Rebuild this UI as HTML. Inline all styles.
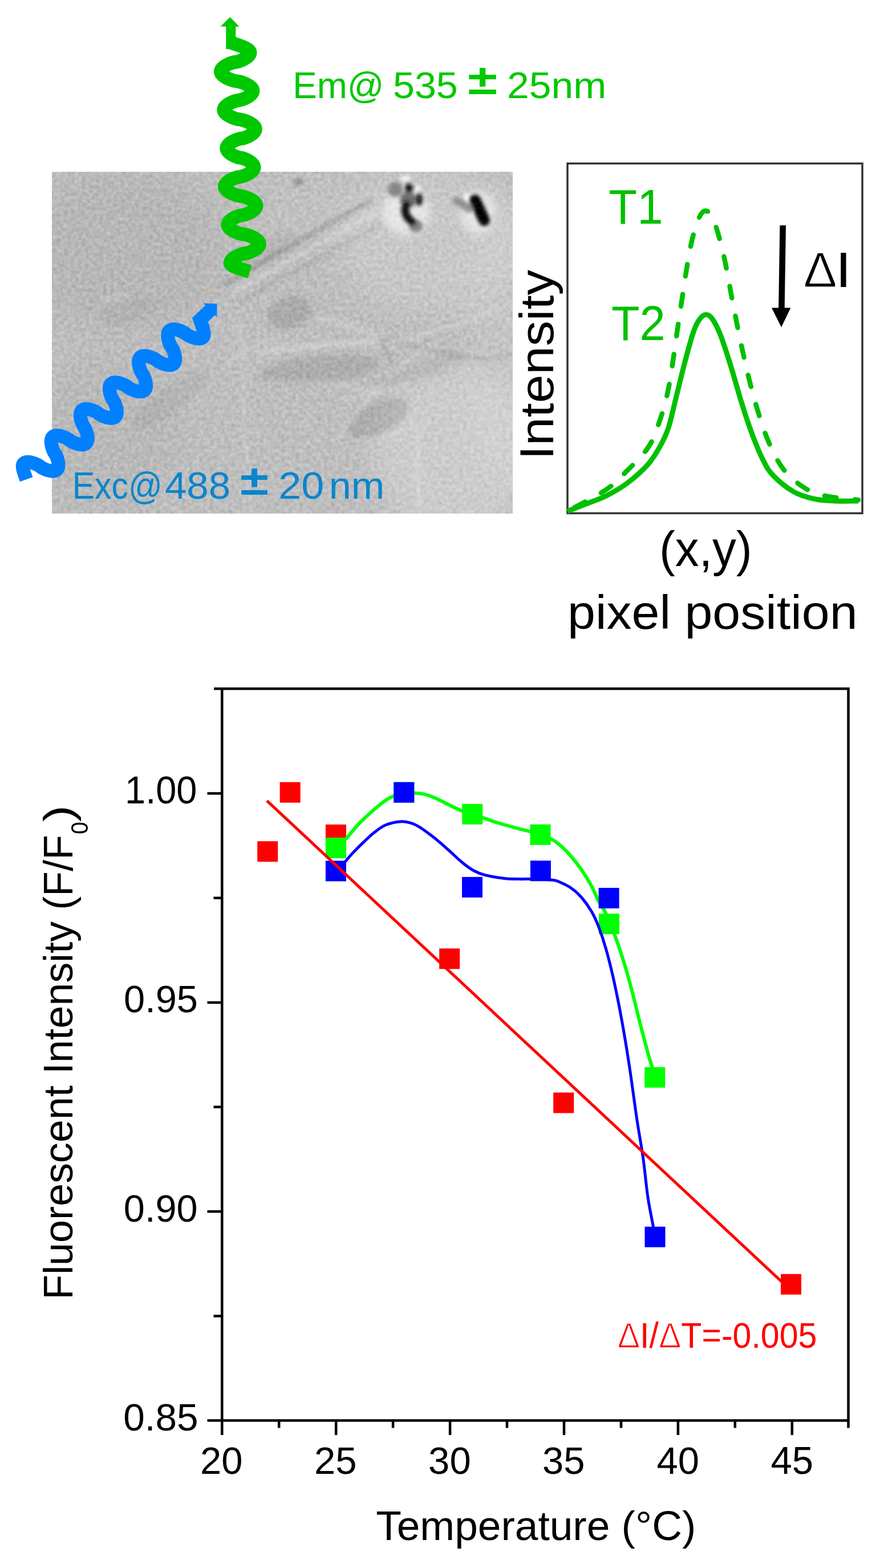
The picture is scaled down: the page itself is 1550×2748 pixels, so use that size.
<!DOCTYPE html><html><head><meta charset="utf-8"><title>Fluorescence thermometry figure</title><style>html,body{margin:0;padding:0;background:#fff;overflow:hidden}svg{display:block}text{font-family:"Liberation Sans",Arial,sans-serif}</style></head><body>
<svg width="1550" height="2748" viewBox="0 0 1550 2748">
<defs><filter id="grain" x="91" y="301" width="808" height="599" filterUnits="userSpaceOnUse" color-interpolation-filters="sRGB"><feTurbulence type="fractalNoise" baseFrequency="0.16" numOctaves="2" seed="5"/><feGaussianBlur stdDeviation="0.8"/><feColorMatrix type="matrix" values="0.24 0 0 0 0.622  0.24 0 0 0 0.622  0.24 0 0 0 0.622  0 0 0 0 1"/></filter><filter id="grain2" x="91" y="301" width="808" height="599" filterUnits="userSpaceOnUse" color-interpolation-filters="sRGB"><feTurbulence type="fractalNoise" baseFrequency="0.3" numOctaves="1" seed="11"/><feColorMatrix type="matrix" values="0 0 0 0 1  0 0 0 0 1  0 0 0 0 1  2.2 0 0 0 -1.15"/></filter><filter id="b3" x="-50%" y="-50%" width="200%" height="200%"><feGaussianBlur stdDeviation="3"/></filter><filter id="b5" x="-50%" y="-50%" width="200%" height="200%"><feGaussianBlur stdDeviation="5"/></filter><filter id="b8" x="-50%" y="-50%" width="200%" height="200%"><feGaussianBlur stdDeviation="8"/></filter><filter id="b25" x="-50%" y="-50%" width="200%" height="200%"><feGaussianBlur stdDeviation="25"/></filter><clipPath id="imgclip"><rect x="91" y="301" width="808" height="599"/></clipPath></defs>
<rect width="1550" height="2748" fill="#fff"/>
<g clip-path="url(#imgclip)">
<rect x="91" y="301" width="808" height="599" filter="url(#grain)"/>
<g filter="url(#b25)">
<ellipse cx="800" cy="790" rx="150" ry="150" fill="#fff" opacity="0.22"/>
<ellipse cx="760" cy="420" rx="170" ry="130" fill="#fff" opacity="0.16"/>
<ellipse cx="880" cy="600" rx="60" ry="260" fill="#fff" opacity="0.10"/>
<ellipse cx="560" cy="360" rx="120" ry="60" fill="#fff" opacity="0.05"/>
<ellipse cx="220" cy="440" rx="170" ry="140" fill="#000" opacity="0.035"/>
<ellipse cx="190" cy="760" rx="120" ry="130" fill="#000" opacity="0.025"/>
</g>
<g filter="url(#b5)" fill="#000">
<ellipse cx="508" cy="548" rx="40" ry="28" opacity="0.10" transform="rotate(-20 508 548)"/>
<ellipse cx="560" cy="648" rx="105" ry="24" opacity="0.09" transform="rotate(-6 560 648)"/>
<ellipse cx="663" cy="733" rx="58" ry="27" opacity="0.10" transform="rotate(-28 663 733)"/>
<ellipse cx="225" cy="545" rx="50" ry="20" opacity="0.03" transform="rotate(-12 225 545)"/>
<ellipse cx="735" cy="650" rx="88" ry="15" opacity="0.05" transform="rotate(-20 735 650)"/>
<ellipse cx="300" cy="700" rx="80" ry="22" opacity="0.045" transform="rotate(-38 300 700)"/>
<ellipse cx="470" cy="440" rx="60" ry="20" opacity="0.04" transform="rotate(-30 470 440)"/>
</g>
<g filter="url(#b3)" fill="none">
<path d="M392 500 C470 452 560 402 652 350" stroke="#000" stroke-opacity="0.14" stroke-width="9"/>
<path d="M420 530 C500 482 580 442 670 392" stroke="#000" stroke-opacity="0.08" stroke-width="7"/>
<path d="M406 515 C488 467 570 421 662 370" stroke="#fff" stroke-opacity="0.22" stroke-width="8"/>
<path d="M452 618 C540 606 620 600 662 598" stroke="#fff" stroke-opacity="0.28" stroke-width="8"/>
<path d="M552 556 C600 565 640 580 666 592" stroke="#fff" stroke-opacity="0.22" stroke-width="7"/>
<path d="M666 592 C675 610 684 628 691 642" stroke="#000" stroke-opacity="0.10" stroke-width="5"/>
<path d="M684 600 C760 585 830 560 899 530" stroke="#fff" stroke-opacity="0.18" stroke-width="8"/>
<path d="M600 700 C640 690 690 680 720 672" stroke="#fff" stroke-opacity="0.20" stroke-width="6"/>
<path d="M615 772 C650 775 700 760 730 740" stroke="#fff" stroke-opacity="0.16" stroke-width="6"/>
<path d="M470 665 C540 676 610 665 660 690" stroke="#fff" stroke-opacity="0.14" stroke-width="8"/>
<path d="M590 772 C640 692 700 640 762 602" stroke="#fff" stroke-opacity="0.14" stroke-width="8"/>
<path d="M680 592 C760 612 830 642 899 622" stroke="#000" stroke-opacity="0.07" stroke-width="8"/>
<path d="M420 560 C430 610 420 700 440 900" stroke="#fff" stroke-opacity="0.10" stroke-width="10"/>
<path d="M180 525 L228 515" stroke="#fff" stroke-opacity="0.25" stroke-width="5"/>
<path d="M395 640 C420 620 450 600 500 585" stroke="#fff" stroke-opacity="0.18" stroke-width="6"/>
<path d="M731 742 L735 900" stroke="#fff" stroke-opacity="0.15" stroke-width="8"/>
<ellipse cx="524" cy="319" rx="9" ry="7" fill="#000" fill-opacity="0.22" stroke="none"/>
</g>
<g filter="url(#b8)">
<ellipse cx="712" cy="372" rx="42" ry="40" fill="#fff" opacity="0.55"/>
<ellipse cx="838" cy="372" rx="30" ry="38" fill="#fff" opacity="0.55"/>
</g>
<g filter="url(#b3)">
<ellipse cx="711" cy="313" rx="10" ry="5" fill="#fff" opacity="0.8"/>
<ellipse cx="732" cy="331" rx="5" ry="5" fill="#fff"/>
<ellipse cx="819" cy="350" rx="5" ry="11" fill="#fff"/>
</g>
<g filter="url(#b3)">
<ellipse cx="693" cy="332" rx="13" ry="13" fill="#858585"/>
<ellipse cx="716" cy="350" rx="15" ry="14" fill="#6e6e6e"/>
<ellipse cx="729" cy="396" rx="12" ry="11" fill="#808080"/>
<ellipse cx="717" cy="330" rx="7" ry="8" fill="#0c0c0c"/>
<ellipse cx="735" cy="350" rx="6" ry="11" fill="#151515"/>
<path d="M713 358 C707 370 712 381 723 389" stroke="#0a0a0a" stroke-width="14" stroke-linecap="round" fill="none"/>
<path d="M800 352 C810 356 818 362 822 366" stroke="#8f8f8f" stroke-width="14" stroke-linecap="round" fill="none"/>
<path d="M833 351 L849 386" stroke="#030303" stroke-width="20" stroke-linecap="round" fill="none"/>
</g>
<rect x="91" y="301" width="808" height="599" filter="url(#grain2)" opacity="0.2"/>
</g>
<path d="M406.00 75.00 L407.55 75.51 L409.09 76.03 L410.63 76.54 L412.15 77.06 L413.66 77.57 L415.16 78.09 L416.63 78.60 L418.08 79.12 L419.50 79.63 L420.89 80.15 L422.25 80.66 L423.57 81.17 L424.85 81.69 L426.09 82.20 L427.28 82.72 L428.43 83.23 L429.52 83.75 L430.56 84.26 L431.55 84.78 L432.47 85.29 L433.34 85.81 L434.15 86.32 L434.89 86.83 L435.56 87.35 L436.17 87.86 L436.71 88.38 L437.18 88.89 L437.58 89.41 L437.91 89.92 L438.17 90.44 L438.35 90.95 L438.46 91.47 L438.50 91.98 L438.48 92.48 L438.42 92.98 L438.32 93.48 L438.18 93.98 L438.00 94.48 L437.79 94.98 L437.53 95.49 L437.23 95.99 L436.90 96.49 L436.52 96.99 L436.11 97.49 L435.65 97.99 L435.16 98.49 L434.62 98.99 L434.05 99.49 L433.44 99.99 L432.79 100.49 L432.09 100.99 L431.36 101.49 L430.58 101.99 L429.76 102.50 L428.90 103.00 L427.99 103.50 L427.03 104.00 L426.02 104.50 L424.96 105.00 L423.84 105.50 L422.64 106.00 L421.37 106.50 L419.99 107.00 L418.48 107.50 L416.76 108.00 L414.61 108.50 L410.89 109.01 L408.74 109.51 L407.02 110.01 L405.51 110.51 L404.13 111.01 L402.86 111.51 L401.66 112.01 L400.54 112.51 L399.48 113.01 L398.47 113.51 L397.51 114.01 L396.60 114.51 L395.74 115.01 L394.92 115.52 L394.14 116.02 L393.41 116.52 L392.71 117.02 L392.06 117.52 L391.45 118.02 L390.88 118.52 L390.34 119.02 L389.85 119.52 L389.39 120.02 L388.98 120.52 L388.60 121.02 L388.27 121.52 L387.97 122.02 L387.71 122.53 L387.50 123.03 L387.32 123.53 L387.18 124.03 L387.08 124.53 L387.02 125.03 L387.00 125.53 L387.02 126.03 L387.09 126.53 L387.20 127.03 L387.35 127.53 L387.54 128.03 L387.78 128.53 L388.06 129.04 L388.39 129.54 L388.76 130.04 L389.17 130.54 L389.62 131.04 L390.12 131.54 L390.66 132.04 L391.24 132.54 L391.87 133.04 L392.54 133.54 L393.26 134.04 L394.02 134.54 L394.82 135.04 L395.67 135.54 L396.57 136.05 L397.51 136.55 L398.51 137.05 L399.56 137.55 L400.66 138.05 L401.83 138.55 L403.06 139.05 L404.36 139.55 L405.76 140.05 L407.27 140.55 L408.92 141.05 L410.80 141.55 L413.16 142.05 L417.24 142.56 L419.60 143.06 L421.48 143.56 L423.13 144.06 L424.64 144.56 L426.04 145.06 L427.34 145.56 L428.57 146.06 L429.74 146.56 L430.84 147.06 L431.89 147.56 L432.89 148.06 L433.83 148.56 L434.73 149.07 L435.58 149.57 L436.38 150.07 L437.14 150.57 L437.86 151.07 L438.53 151.57 L439.16 152.07 L439.74 152.57 L440.28 153.07 L440.78 153.57 L441.23 154.07 L441.64 154.57 L442.01 155.07 L442.34 155.57 L442.62 156.08 L442.86 156.58 L443.05 157.08 L443.20 157.58 L443.31 158.08 L443.38 158.58 L443.40 159.08 L443.38 159.58 L443.32 160.08 L443.22 160.58 L443.09 161.08 L442.91 161.58 L442.69 162.08 L442.44 162.59 L442.15 163.09 L441.81 163.59 L441.44 164.09 L441.03 164.59 L440.58 165.09 L440.09 165.59 L439.56 166.09 L439.00 166.59 L438.39 167.09 L437.74 167.59 L437.05 168.09 L436.33 168.59 L435.56 169.09 L434.75 169.60 L433.89 170.10 L432.99 170.60 L432.04 171.10 L431.05 171.60 L429.99 172.10 L428.88 172.60 L427.70 173.10 L426.44 173.60 L425.07 174.10 L423.58 174.60 L421.87 175.10 L419.74 175.60 L416.06 176.11 L413.93 176.61 L412.22 177.11 L410.73 177.61 L409.36 178.11 L408.10 178.61 L406.92 179.11 L405.81 179.61 L404.75 180.11 L403.76 180.61 L402.81 181.11 L401.91 181.61 L401.05 182.11 L400.24 182.62 L399.47 183.12 L398.75 183.62 L398.06 184.12 L397.41 184.62 L396.80 185.12 L396.24 185.62 L395.71 186.12 L395.22 186.62 L394.77 187.12 L394.36 187.62 L393.99 188.12 L393.65 188.62 L393.36 189.12 L393.11 189.63 L392.89 190.13 L392.71 190.63 L392.58 191.13 L392.48 191.63 L392.42 192.13 L392.40 192.63 L392.42 193.13 L392.49 193.63 L392.59 194.13 L392.74 194.63 L392.93 195.13 L393.17 195.63 L393.44 196.14 L393.76 196.64 L394.12 197.14 L394.53 197.64 L394.97 198.14 L395.46 198.64 L395.99 199.14 L396.57 199.64 L397.18 200.14 L397.84 200.64 L398.55 201.14 L399.29 201.64 L400.08 202.14 L400.92 202.64 L401.80 203.15 L402.73 203.65 L403.71 204.15 L404.74 204.65 L405.82 205.15 L406.96 205.65 L408.17 206.15 L409.46 206.65 L410.83 207.15 L412.31 207.65 L413.93 208.15 L415.78 208.65 L418.10 209.15 L422.10 209.66 L424.42 210.16 L426.27 210.66 L427.89 211.16 L429.37 211.66 L430.74 212.16 L432.03 212.66 L433.24 213.16 L434.38 213.66 L435.46 214.16 L436.49 214.66 L437.47 215.16 L438.40 215.66 L439.28 216.17 L440.12 216.67 L440.91 217.17 L441.65 217.67 L442.36 218.17 L443.02 218.67 L443.63 219.17 L444.21 219.67 L444.74 220.17 L445.23 220.67 L445.67 221.17 L446.08 221.67 L446.44 222.17 L446.76 222.67 L447.03 223.18 L447.27 223.68 L447.46 224.18 L447.61 224.68 L447.71 225.18 L447.78 225.68 L447.80 226.18 L447.78 226.68 L447.72 227.18 L447.63 227.68 L447.49 228.18 L447.32 228.68 L447.10 229.18 L446.85 229.69 L446.56 230.19 L446.23 230.69 L445.86 231.19 L445.46 231.69 L445.01 232.19 L444.53 232.69 L444.01 233.19 L443.45 233.69 L442.85 234.19 L442.21 234.69 L441.53 235.19 L440.81 235.69 L440.05 236.19 L439.25 236.70 L438.40 237.20 L437.51 237.70 L436.58 238.20 L435.59 238.70 L434.55 239.20 L433.45 239.70 L432.28 240.20 L431.04 240.70 L429.69 241.20 L428.21 241.70 L426.53 242.20 L424.42 242.70 L420.78 243.21 L418.67 243.71 L416.99 244.21 L415.51 244.71 L414.16 245.21 L412.92 245.71 L411.75 246.21 L410.65 246.71 L409.61 247.21 L408.62 247.71 L407.69 248.21 L406.80 248.71 L405.95 249.21 L405.15 249.72 L404.39 250.22 L403.67 250.72 L402.99 251.22 L402.35 251.72 L401.75 252.22 L401.19 252.72 L400.67 253.22 L400.19 253.72 L399.74 254.22 L399.34 254.72 L398.97 255.22 L398.64 255.72 L398.35 256.22 L398.10 256.73 L397.88 257.23 L397.71 257.73 L397.57 258.23 L397.48 258.73 L397.42 259.23 L397.40 259.73 L397.42 260.23 L397.47 260.73 L397.57 261.23 L397.70 261.73 L397.86 262.23 L398.07 262.73 L398.31 263.24 L398.58 263.74 L398.90 264.24 L399.25 264.74 L399.64 265.24 L400.06 265.74 L400.52 266.24 L401.02 266.74 L401.55 267.24 L402.13 267.74 L402.74 268.24 L403.38 268.74 L404.07 269.24 L404.80 269.74 L405.56 270.25 L406.37 270.75 L407.22 271.25 L408.11 271.75 L409.05 272.25 L410.04 272.75 L411.09 273.25 L412.21 273.75 L413.40 274.25 L414.68 274.75 L416.10 275.25 L417.70 275.75 L419.71 276.25 L423.19 276.76 L425.20 277.26 L426.80 277.76 L428.22 278.26 L429.50 278.76 L430.69 279.26 L431.81 279.76 L432.86 280.26 L433.85 280.76 L434.79 281.26 L435.68 281.76 L436.53 282.26 L437.34 282.76 L438.10 283.27 L438.83 283.77 L439.52 284.27 L440.16 284.77 L440.77 285.27 L441.35 285.77 L441.88 286.27 L442.38 286.77 L442.84 287.27 L443.26 287.77 L443.65 288.27 L444.00 288.77 L444.32 289.27 L444.59 289.77 L444.83 290.28 L445.04 290.78 L445.20 291.28 L445.33 291.78 L445.43 292.28 L445.48 292.78 L445.50 293.28 L445.48 293.78 L445.42 294.28 L445.32 294.78 L445.18 295.28 L445.00 295.78 L444.79 296.28 L444.53 296.79 L444.23 297.29 L443.90 297.79 L443.52 298.29 L443.11 298.79 L442.65 299.29 L442.16 299.79 L441.62 300.29 L441.05 300.79 L440.44 301.29 L439.79 301.79 L439.09 302.29 L438.36 302.79 L437.58 303.29 L436.76 303.80 L435.90 304.30 L434.99 304.80 L434.03 305.30 L433.02 305.80 L431.96 306.30 L430.84 306.80 L429.64 307.30 L428.37 307.80 L426.99 308.30 L425.48 308.80 L423.76 309.30 L421.61 309.80 L417.89 310.31 L415.74 310.81 L414.02 311.31 L412.51 311.81 L411.13 312.31 L409.86 312.81 L408.66 313.31 L407.54 313.81 L406.48 314.31 L405.47 314.81 L404.51 315.31 L403.60 315.81 L402.74 316.31 L401.92 316.82 L401.14 317.32 L400.41 317.82 L399.71 318.32 L399.06 318.82 L398.45 319.32 L397.88 319.82 L397.34 320.32 L396.85 320.82 L396.39 321.32 L395.98 321.82 L395.60 322.32 L395.27 322.82 L394.97 323.32 L394.71 323.83 L394.50 324.33 L394.32 324.83 L394.18 325.33 L394.08 325.83 L394.02 326.33 L394.00 326.83 L394.02 327.33 L394.09 327.83 L394.19 328.33 L394.34 328.83 L394.53 329.33 L394.77 329.83 L395.05 330.34 L395.37 330.84 L395.73 331.34 L396.14 331.84 L396.58 332.34 L397.07 332.84 L397.61 333.34 L398.18 333.84 L398.80 334.34 L399.46 334.84 L400.17 335.34 L400.92 335.84 L401.71 336.34 L402.55 336.84 L403.43 337.35 L404.37 337.85 L405.35 338.35 L406.38 338.85 L407.47 339.35 L408.62 339.85 L409.83 340.35 L411.12 340.85 L412.49 341.35 L413.98 341.85 L415.61 342.35 L417.47 342.85 L419.79 343.35 L423.81 343.86 L426.13 344.36 L427.99 344.86 L429.62 345.36 L431.11 345.86 L432.48 346.36 L433.77 346.86 L434.98 347.36 L436.13 347.86 L437.22 348.36 L438.25 348.86 L439.23 349.36 L440.17 349.86 L441.05 350.37 L441.89 350.87 L442.68 351.37 L443.43 351.87 L444.14 352.37 L444.80 352.87 L445.42 353.37 L445.99 353.87 L446.53 354.37 L447.02 354.87 L447.46 355.37 L447.87 355.87 L448.23 356.37 L448.55 356.87 L448.83 357.38 L449.07 357.88 L449.26 358.38 L449.41 358.88 L449.51 359.38 L449.58 359.88 L449.60 360.38 L449.58 360.88 L449.52 361.38 L449.43 361.88 L449.29 362.38 L449.12 362.88 L448.91 363.38 L448.65 363.89 L448.37 364.39 L448.04 364.89 L447.67 365.39 L447.27 365.89 L446.82 366.39 L446.34 366.89 L445.82 367.39 L445.26 367.89 L444.67 368.39 L444.03 368.89 L443.35 369.39 L442.64 369.89 L441.88 370.39 L441.08 370.90 L440.24 371.40 L439.36 371.90 L438.42 372.40 L437.44 372.90 L436.40 373.40 L435.31 373.90 L434.15 374.40 L432.90 374.90 L431.56 375.40 L430.09 375.90 L428.41 376.40 L426.31 376.90 L422.69 377.41 L420.59 377.91 L418.91 378.41 L417.44 378.91 L416.10 379.41 L414.85 379.91 L413.69 380.41 L412.60 380.91 L411.56 381.41 L410.58 381.91 L409.64 382.41 L408.76 382.91 L407.92 383.41 L407.12 383.92 L406.36 384.42 L405.65 384.92 L404.97 385.42 L404.33 385.92 L403.74 386.42 L403.18 386.92 L402.66 387.42 L402.18 387.92 L401.73 388.42 L401.33 388.92 L400.96 389.42 L400.63 389.92 L400.35 390.42 L400.09 390.93 L399.88 391.43 L399.71 391.93 L399.57 392.43 L399.48 392.93 L399.42 393.43 L399.40 393.93 L399.42 394.43 L399.49 394.93 L399.59 395.43 L399.74 395.93 L399.93 396.43 L400.17 396.93 L400.45 397.44 L400.77 397.94 L401.13 398.44 L401.53 398.94 L401.98 399.44 L402.47 399.94 L403.00 400.44 L403.58 400.94 L404.19 401.44 L404.85 401.94 L405.56 402.44 L406.31 402.94 L407.10 403.44 L407.93 403.94 L408.82 404.45 L409.75 404.95 L410.73 405.45 L411.76 405.95 L412.84 406.45 L413.99 406.95 L415.20 407.45 L416.49 407.95 L417.86 408.45 L419.34 408.95 L420.97 409.45 L422.82 409.95 L425.14 410.45 L429.16 410.96 L431.48 411.46 L433.33 411.96 L434.96 412.46 L436.44 412.96 L437.81 413.46 L439.10 413.96 L440.31 414.46 L441.46 414.96 L442.54 415.46 L443.57 415.96 L444.55 416.46 L445.48 416.96 L446.37 417.47 L447.20 417.97 L447.99 418.47 L448.74 418.97 L449.45 419.47 L450.11 419.97 L450.72 420.47 L451.30 420.97 L451.83 421.47 L452.32 421.97 L452.77 422.47 L453.17 422.97 L453.53 423.47 L453.85 423.97 L454.13 424.48 L454.37 424.98 L454.56 425.48 L454.71 425.98 L454.81 426.48 L454.88 426.98 L454.90 427.48 L454.88 427.98 L454.82 428.48 L454.72 428.98 L454.58 429.48 L454.41 429.98 L454.19 430.48 L453.94 430.99 L453.64 431.49 L453.31 431.99 L452.93 432.49 L452.52 432.99 L452.07 433.49 L451.58 433.99 L451.05 434.49 L450.48 434.99 L449.87 435.49 L449.22 435.99 L448.53 436.49 L447.80 436.99 L447.03 437.49 L446.21 438.00 L445.35 438.50 L444.45 439.00 L443.50 439.50 L442.50 440.00 L441.44 440.50 L440.32 441.00 L439.14 441.50 L437.87 442.00 L436.50 442.50 L435.00 443.00 L433.29 443.50 L431.15 444.00 L427.45 444.51 L425.31 445.01 L423.60 445.51 L422.10 446.01 L420.73 446.51 L419.46 447.01 L418.28 447.51 L417.16 448.01 L416.10 448.51 L415.10 449.01 L414.15 449.51 L413.25 450.01 L412.39 450.51 L411.57 451.02 L410.80 451.52 L410.07 452.02 L409.38 452.52 L408.73 453.02 L408.12 453.52 L407.55 454.02 L407.02 454.52 L406.53 455.02 L406.08 455.52 L405.67 456.02 L405.29 456.52 L404.96 457.02 L404.66 457.52 L404.41 458.03 L404.19 458.53 L404.02 459.03 L403.88 459.53 L403.78 460.03 L403.72 460.53 L403.70 461.03 L403.75 461.55 L403.90 462.06 L404.15 462.58 L404.50 463.09 L404.95 463.61 L405.50 464.13 L406.14 464.64 L406.87 465.16 L407.70 465.68 L408.61 466.19 L409.61 466.71 L410.69 467.22 L411.86 467.74 L413.10 468.26 L414.41 468.77 L415.79 469.29 L417.24 469.81 L418.75 470.32 L420.32 470.84 L421.93 471.35 L423.60 471.87 L425.30 472.39 L427.05 472.90 L428.82 473.42 L430.63 473.94 L432.45 474.45 L434.29 474.97 L436.14 475.48 L438.00 476.00" fill="none" stroke="#00c800" stroke-width="24.0" stroke-linejoin="round"/>
<rect x="396.3" y="44" width="17" height="42" fill="#00c800"/>
<polygon points="386.4,46.6 419.6,46.6 403.4,29.9" fill="#00c800"/>
<path d="M46.23 840.05 L45.78 838.83 L45.33 837.62 L44.88 836.41 L44.44 835.21 L44.01 834.02 L43.59 832.84 L43.18 831.67 L42.79 830.52 L42.41 829.38 L42.05 828.26 L41.71 827.17 L41.40 826.10 L41.10 825.05 L40.83 824.03 L40.59 823.04 L40.38 822.08 L40.20 821.15 L40.05 820.25 L39.93 819.39 L39.85 818.56 L39.80 817.78 L39.79 817.03 L39.82 816.31 L39.88 815.64 L39.98 815.01 L40.13 814.43 L40.31 813.88 L40.53 813.38 L40.80 812.92 L41.10 812.50 L41.45 812.13 L41.83 811.80 L42.23 811.49 L42.65 811.21 L43.10 810.96 L43.57 810.73 L44.06 810.52 L44.58 810.34 L45.13 810.18 L45.69 810.05 L46.28 809.95 L46.90 809.87 L47.54 809.82 L48.20 809.79 L48.89 809.78 L49.60 809.80 L50.33 809.85 L51.09 809.92 L51.87 810.02 L52.68 810.14 L53.52 810.30 L54.37 810.47 L55.26 810.68 L56.17 810.91 L57.11 811.17 L58.08 811.47 L59.08 811.80 L60.12 812.16 L61.19 812.56 L62.31 813.01 L63.47 813.51 L64.70 814.08 L66.02 814.74 L67.47 815.54 L69.18 816.62 L71.89 818.75 L73.61 819.83 L75.06 820.63 L76.37 821.29 L77.60 821.86 L78.77 822.36 L79.89 822.81 L80.96 823.21 L82.00 823.58 L83.00 823.90 L83.97 824.20 L84.91 824.46 L85.82 824.69 L86.70 824.90 L87.56 825.08 L88.39 825.23 L89.20 825.35 L89.99 825.45 L90.75 825.52 L91.48 825.57 L92.19 825.59 L92.88 825.58 L93.54 825.56 L94.18 825.50 L94.79 825.42 L95.38 825.32 L95.95 825.19 L96.49 825.03 L97.01 824.85 L97.51 824.65 L97.98 824.41 L98.43 824.16 L98.85 823.88 L99.25 823.57 L99.62 823.24 L99.98 822.88 L100.30 822.50 L100.61 822.09 L100.89 821.66 L101.15 821.21 L101.38 820.73 L101.60 820.22 L101.79 819.70 L101.95 819.14 L102.09 818.57 L102.21 817.96 L102.31 817.34 L102.38 816.69 L102.43 816.01 L102.46 815.31 L102.46 814.59 L102.44 813.84 L102.40 813.07 L102.33 812.27 L102.24 811.44 L102.12 810.59 L101.98 809.71 L101.81 808.81 L101.61 807.87 L101.39 806.91 L101.13 805.91 L100.84 804.88 L100.52 803.81 L100.15 802.70 L99.73 801.53 L99.26 800.30 L98.70 798.98 L98.01 797.53 L97.06 795.80 L95.15 793.06 L94.20 791.33 L93.51 789.88 L92.95 788.56 L92.47 787.33 L92.05 786.16 L91.69 785.05 L91.36 783.98 L91.07 782.95 L90.82 781.95 L90.59 780.99 L90.40 780.05 L90.23 779.15 L90.09 778.27 L89.97 777.42 L89.88 776.59 L89.81 775.79 L89.76 775.02 L89.74 774.27 L89.75 773.55 L89.77 772.85 L89.82 772.17 L89.90 771.52 L89.99 770.89 L90.11 770.29 L90.25 769.72 L90.42 769.16 L90.61 768.63 L90.82 768.13 L91.06 767.65 L91.31 767.20 L91.60 766.76 L91.90 766.36 L92.23 765.98 L92.58 765.62 L92.96 765.29 L93.36 764.98 L93.78 764.70 L94.23 764.44 L94.70 764.21 L95.19 764.01 L95.71 763.83 L96.26 763.67 L96.82 763.54 L97.42 763.44 L98.03 763.36 L98.67 763.31 L99.33 763.28 L100.02 763.28 L100.73 763.30 L101.47 763.35 L102.23 763.42 L103.01 763.52 L103.82 763.64 L104.66 763.80 L105.52 763.97 L106.40 764.18 L107.32 764.42 L108.26 764.68 L109.23 764.98 L110.23 765.31 L111.27 765.67 L112.34 766.08 L113.46 766.53 L114.63 767.03 L115.86 767.60 L117.18 768.26 L118.63 769.06 L120.35 770.15 L123.07 772.28 L124.79 773.37 L126.24 774.17 L127.56 774.83 L128.79 775.40 L129.96 775.91 L131.08 776.36 L132.15 776.76 L133.19 777.13 L134.19 777.46 L135.16 777.76 L136.10 778.02 L137.02 778.26 L137.90 778.46 L138.76 778.64 L139.60 778.79 L140.41 778.92 L141.19 779.02 L141.95 779.09 L142.69 779.14 L143.40 779.16 L144.09 779.16 L144.75 779.13 L145.39 779.07 L146.00 779.00 L146.60 778.89 L147.16 778.76 L147.71 778.61 L148.23 778.43 L148.72 778.22 L149.19 777.99 L149.64 777.74 L150.06 777.45 L150.46 777.15 L150.84 776.82 L151.19 776.46 L151.52 776.08 L151.82 775.67 L152.10 775.24 L152.36 774.78 L152.60 774.30 L152.81 773.80 L153.00 773.27 L153.16 772.72 L153.30 772.14 L153.42 771.54 L153.52 770.91 L153.59 770.26 L153.64 769.58 L153.67 768.88 L153.67 768.16 L153.65 767.41 L153.60 766.63 L153.53 765.83 L153.44 765.01 L153.32 764.15 L153.18 763.27 L153.00 762.37 L152.81 761.43 L152.58 760.47 L152.32 759.47 L152.03 758.43 L151.71 757.36 L151.34 756.25 L150.92 755.08 L150.44 753.84 L149.88 752.52 L149.19 751.07 L148.23 749.33 L146.32 746.59 L145.36 744.85 L144.67 743.40 L144.11 742.08 L143.63 740.85 L143.21 739.68 L142.84 738.56 L142.51 737.49 L142.22 736.46 L141.97 735.46 L141.74 734.49 L141.54 733.56 L141.37 732.65 L141.23 731.77 L141.11 730.92 L141.02 730.09 L140.95 729.29 L140.90 728.52 L140.88 727.77 L140.88 727.04 L140.91 726.34 L140.96 725.66 L141.03 725.01 L141.12 724.39 L141.24 723.78 L141.38 723.20 L141.55 722.65 L141.74 722.12 L141.95 721.62 L142.18 721.14 L142.44 720.68 L142.72 720.25 L143.03 719.85 L143.36 719.46 L143.71 719.11 L144.08 718.77 L144.48 718.47 L144.91 718.19 L145.35 717.93 L145.83 717.70 L146.32 717.50 L146.84 717.32 L147.39 717.16 L147.95 717.03 L148.55 716.93 L149.16 716.85 L149.80 716.80 L150.47 716.77 L151.15 716.77 L151.87 716.79 L152.60 716.84 L153.36 716.92 L154.15 717.02 L154.96 717.14 L155.80 717.30 L156.66 717.48 L157.55 717.68 L158.46 717.92 L159.40 718.19 L160.38 718.48 L161.38 718.81 L162.42 719.18 L163.50 719.59 L164.62 720.04 L165.79 720.55 L167.02 721.12 L168.34 721.79 L169.79 722.59 L171.52 723.68 L174.24 725.82 L175.97 726.91 L177.42 727.71 L178.74 728.38 L179.97 728.95 L181.14 729.46 L182.26 729.91 L183.34 730.32 L184.38 730.69 L185.38 731.02 L186.36 731.31 L187.30 731.58 L188.22 731.82 L189.10 732.02 L189.96 732.20 L190.80 732.36 L191.61 732.48 L192.40 732.58 L193.16 732.66 L193.89 732.71 L194.61 732.73 L195.29 732.73 L195.96 732.70 L196.60 732.65 L197.21 732.57 L197.81 732.47 L198.37 732.34 L198.92 732.18 L199.44 732.00 L199.93 731.80 L200.41 731.57 L200.85 731.31 L201.28 731.03 L201.68 730.72 L202.05 730.39 L202.40 730.04 L202.73 729.65 L203.04 729.25 L203.32 728.82 L203.58 728.36 L203.81 727.88 L204.02 727.38 L204.21 726.85 L204.37 726.29 L204.52 725.71 L204.63 725.11 L204.73 724.48 L204.80 723.83 L204.85 723.15 L204.87 722.45 L204.87 721.73 L204.85 720.97 L204.80 720.20 L204.73 719.40 L204.64 718.57 L204.52 717.72 L204.37 716.84 L204.20 715.93 L204.00 714.99 L203.78 714.02 L203.52 713.02 L203.22 711.99 L202.90 710.91 L202.52 709.79 L202.10 708.62 L201.62 707.39 L201.06 706.06 L200.36 704.61 L199.41 702.87 L197.48 700.12 L196.52 698.38 L195.83 696.92 L195.27 695.60 L194.78 694.36 L194.36 693.19 L193.99 692.07 L193.66 691.00 L193.37 689.97 L193.11 688.97 L192.89 688.00 L192.69 687.06 L192.51 686.15 L192.37 685.27 L192.25 684.42 L192.15 683.59 L192.08 682.79 L192.04 682.01 L192.02 681.26 L192.02 680.53 L192.04 679.83 L192.09 679.16 L192.16 678.50 L192.26 677.88 L192.37 677.27 L192.51 676.69 L192.68 676.14 L192.87 675.61 L193.08 675.11 L193.31 674.63 L193.57 674.17 L193.85 673.74 L194.16 673.33 L194.48 672.95 L194.84 672.59 L195.21 672.26 L195.61 671.96 L196.04 671.67 L196.48 671.42 L196.96 671.19 L197.45 670.98 L197.97 670.81 L198.52 670.65 L199.08 670.52 L199.68 670.42 L200.29 670.34 L200.94 670.29 L201.60 670.26 L202.29 670.26 L203.00 670.29 L203.74 670.34 L204.50 670.41 L205.29 670.51 L206.10 670.64 L206.94 670.80 L207.80 670.98 L208.69 671.19 L209.60 671.42 L210.55 671.69 L211.52 671.99 L212.53 672.32 L213.57 672.69 L214.65 673.10 L215.77 673.56 L216.94 674.07 L218.18 674.64 L219.50 675.31 L220.96 676.11 L222.69 677.21 L225.41 679.35 L227.14 680.45 L228.60 681.26 L229.92 681.92 L231.16 682.50 L232.33 683.01 L233.45 683.46 L234.53 683.87 L235.57 684.24 L236.58 684.57 L237.55 684.87 L238.50 685.14 L239.41 685.38 L240.30 685.59 L241.17 685.77 L242.00 685.92 L242.81 686.05 L243.60 686.15 L244.36 686.23 L245.10 686.28 L245.81 686.30 L246.50 686.30 L247.17 686.27 L247.81 686.22 L248.42 686.14 L249.02 686.04 L249.59 685.91 L250.13 685.76 L250.65 685.58 L251.15 685.38 L251.62 685.15 L252.07 684.89 L252.49 684.61 L252.89 684.30 L253.27 683.97 L253.62 683.61 L253.95 683.23 L254.25 682.82 L254.53 682.39 L254.79 681.94 L255.02 681.46 L255.23 680.95 L255.42 680.42 L255.59 679.87 L255.73 679.29 L255.84 678.68 L255.94 678.06 L256.01 677.40 L256.06 676.72 L256.08 676.02 L256.08 675.30 L256.06 674.54 L256.01 673.77 L255.94 672.96 L255.84 672.13 L255.72 671.28 L255.57 670.40 L255.40 669.49 L255.20 668.55 L254.97 667.58 L254.71 666.58 L254.42 665.54 L254.08 664.46 L253.71 663.34 L253.29 662.17 L252.80 660.93 L252.24 659.61 L251.54 658.15 L250.58 656.41 L248.65 653.65 L247.69 651.90 L246.99 650.44 L246.43 649.12 L245.94 647.88 L245.52 646.71 L245.15 645.59 L244.82 644.51 L244.52 643.47 L244.26 642.47 L244.03 641.50 L243.83 640.56 L243.66 639.65 L243.51 638.77 L243.39 637.92 L243.29 637.09 L243.22 636.29 L243.17 635.51 L243.15 634.76 L243.15 634.03 L243.18 633.33 L243.22 632.65 L243.29 632.00 L243.39 631.37 L243.50 630.76 L243.65 630.18 L243.81 629.63 L244.00 629.10 L244.21 628.59 L244.44 628.11 L244.70 627.66 L244.98 627.23 L245.28 626.82 L245.61 626.44 L245.96 626.08 L246.34 625.75 L246.74 625.44 L247.16 625.16 L247.61 624.91 L248.08 624.68 L248.58 624.47 L249.10 624.29 L249.65 624.14 L250.22 624.01 L250.81 623.91 L251.43 623.83 L252.07 623.78 L252.73 623.76 L253.42 623.76 L254.14 623.78 L254.88 623.83 L255.64 623.91 L256.43 624.01 L257.24 624.14 L258.08 624.30 L258.94 624.48 L259.83 624.69 L260.75 624.93 L261.69 625.20 L262.67 625.50 L263.68 625.83 L264.72 626.20 L265.80 626.62 L266.93 627.07 L268.10 627.58 L269.34 628.16 L270.67 628.83 L272.12 629.64 L273.86 630.74 L276.59 632.89 L278.32 633.99 L279.78 634.80 L281.10 635.47 L282.34 636.05 L283.52 636.56 L284.64 637.01 L285.72 637.42 L286.77 637.80 L287.77 638.13 L288.75 638.43 L289.70 638.70 L290.61 638.94 L291.50 639.15 L292.37 639.33 L293.21 639.49 L294.02 639.62 L294.81 639.72 L295.57 639.80 L296.31 639.85 L297.02 639.87 L297.71 639.87 L298.38 639.85 L299.02 639.79 L299.64 639.72 L300.23 639.62 L300.80 639.49 L301.34 639.33 L301.86 639.16 L302.36 638.95 L302.83 638.72 L303.28 638.47 L303.70 638.19 L304.10 637.88 L304.48 637.55 L304.83 637.19 L305.16 636.81 L305.46 636.40 L305.74 635.97 L306.00 635.51 L306.24 635.03 L306.45 634.53 L306.63 634.00 L306.80 633.44 L306.94 632.86 L307.05 632.26 L307.15 631.63 L307.22 630.97 L307.26 630.30 L307.29 629.59 L307.28 628.86 L307.26 628.11 L307.21 627.33 L307.14 626.53 L307.04 625.70 L306.92 624.84 L306.77 623.96 L306.60 623.05 L306.39 622.11 L306.16 621.14 L305.90 620.13 L305.61 619.09 L305.27 618.02 L304.90 616.89 L304.47 615.72 L303.99 614.48 L303.42 613.15 L302.72 611.69 L301.75 609.94 L299.82 607.17 L298.85 605.43 L298.15 603.97 L297.58 602.64 L297.10 601.40 L296.67 600.22 L296.30 599.10 L295.97 598.02 L295.67 596.98 L295.41 595.98 L295.18 595.01 L294.98 594.07 L294.80 593.16 L294.65 592.27 L294.53 591.42 L294.43 590.59 L294.36 589.78 L294.31 589.00 L294.29 588.25 L294.29 587.52 L294.31 586.82 L294.36 586.14 L294.43 585.49 L294.52 584.86 L294.64 584.25 L294.78 583.67 L294.94 583.12 L295.13 582.59 L295.34 582.08 L295.57 581.60 L295.83 581.15 L296.11 580.71 L296.41 580.31 L296.74 579.92 L297.09 579.57 L297.47 579.24 L297.87 578.93 L298.29 578.65 L298.74 578.39 L299.21 578.16 L299.71 577.96 L300.23 577.78 L300.78 577.63 L301.35 577.50 L301.94 577.40 L302.56 577.32 L303.20 577.27 L303.87 577.25 L304.56 577.25 L305.27 577.28 L306.01 577.33 L306.78 577.40 L307.56 577.51 L308.38 577.64 L309.22 577.80 L310.08 577.98 L310.97 578.19 L311.89 578.43 L312.84 578.70 L313.82 579.01 L314.83 579.34 L315.87 579.72 L316.95 580.13 L318.08 580.59 L319.26 581.10 L320.50 581.68 L321.83 582.35 L323.29 583.17 L325.02 584.27 L327.76 586.43 L329.50 587.53 L330.96 588.34 L332.29 589.01 L333.53 589.59 L334.71 590.11 L335.83 590.56 L336.91 590.98 L337.96 591.35 L338.97 591.69 L339.95 591.99 L340.89 592.26 L341.81 592.50 L342.70 592.71 L343.57 592.90 L344.41 593.05 L345.22 593.18 L346.01 593.29 L346.77 593.37 L347.51 593.42 L348.23 593.44 L348.92 593.44 L349.59 593.42 L350.23 593.37 L350.85 593.29 L351.44 593.19 L352.01 593.06 L352.56 592.91 L353.08 592.73 L353.57 592.53 L354.05 592.30 L354.49 592.04 L354.92 591.76 L355.32 591.46 L355.69 591.13 L356.05 590.75 L356.36 590.34 L356.64 589.89 L356.89 589.40 L357.09 588.87 L357.26 588.30 L357.39 587.69 L357.49 587.05 L357.55 586.37 L357.58 585.65 L357.58 584.90 L357.54 584.12 L357.47 583.30 L357.37 582.45 L357.24 581.56 L357.08 580.65 L356.89 579.71 L356.68 578.73 L356.44 577.74 L356.18 576.72 L355.89 575.67 L355.59 574.60 L355.26 573.51 L354.92 572.40 L354.56 571.28 L354.18 570.14 L353.79 568.98 L353.39 567.81 L352.98 566.63 L352.56 565.44 L352.13 564.25 L351.70 563.05 L351.27 561.84 L350.83 560.63 L370.77 541.71" fill="none" stroke="#0080ff" stroke-width="24.0" stroke-linejoin="miter" stroke-miterlimit="10"/>
<polygon points="356.90,531.45 380.29,556.10 380.56,532.43" fill="#0080ff"/>
<text transform="translate(513.20 171.80) scale(0.9711 1)" font-size="65.60" font-weight="normal" fill="#00c800">Em@</text>
<text transform="translate(688.97 171.80) scale(1.0393 1)" font-size="65.60" font-weight="normal" fill="#00c800">535</text>
<text transform="translate(820.31 164.60) scale(0.9431 0.7468)" font-size="100" font-weight="bold" fill="#00c800">±</text>
<text transform="translate(889.02 171.80) scale(1.0613 1)" font-size="65.60" font-weight="normal" fill="#00c800">25nm</text>
<text transform="translate(126.68 873.50) scale(0.8935 1)" font-size="66.00" font-weight="normal" fill="#0b85cc">Exc@</text>
<text transform="translate(288.92 873.50) scale(1.0464 1)" font-size="66.00" font-weight="normal" fill="#0b85cc">488</text>
<text transform="translate(420.88 866.80) scale(0.9118 0.7500)" font-size="100" font-weight="bold" fill="#0b85cc">±</text>
<text transform="translate(488.31 873.50) scale(1.0888 1)" font-size="66.00" font-weight="normal" fill="#0b85cc">20</text>
<text transform="translate(576.78 873.50) scale(1.0642 1)" font-size="66.00" font-weight="normal" fill="#0b85cc">nm</text>
<rect x="995" y="286.5" width="517" height="613" fill="none" stroke="#333" stroke-width="3.5"/>
<path d="M995.00 896.00 C1006.33 889.67 1045.60 869.82 1063.00 858.00 C1080.40 846.18 1087.25 837.27 1099.40 825.10 C1111.55 812.93 1126.78 798.37 1135.90 785.00 C1145.02 771.63 1148.02 762.53 1154.10 744.90 C1160.18 727.27 1166.32 710.20 1172.40 679.20 C1178.48 648.20 1184.52 598.42 1190.60 558.90 C1196.68 519.38 1203.43 470.68 1208.90 442.10 C1214.37 413.52 1218.80 399.50 1223.40 387.40 C1228.00 375.30 1231.90 369.83 1236.50 369.50 C1241.10 369.17 1245.60 372.42 1251.00 385.40 C1256.40 398.38 1262.88 421.25 1268.90 447.40 C1274.92 473.55 1281.03 511.90 1287.10 542.30 C1293.17 572.70 1299.22 603.05 1305.30 629.80 C1311.38 656.55 1316.82 679.37 1323.60 702.80 C1330.38 726.23 1337.77 750.62 1346.00 770.40 C1354.23 790.18 1362.42 807.52 1373.00 821.50 C1383.58 835.48 1397.33 846.40 1409.50 854.30 C1421.67 862.20 1430.08 865.25 1446.00 868.90 C1461.92 872.55 1495.17 874.98 1505.00 876.20" fill="none" stroke="#00c000" stroke-width="8.5" stroke-linecap="round" stroke-dasharray="21.0 32.0" stroke-dashoffset="38.88"/>
<path d="M995.00 896.00 C1000.25 893.92 1015.17 888.02 1026.50 883.50 C1037.83 878.98 1050.85 874.98 1063.00 868.90 C1075.15 862.82 1087.25 856.12 1099.40 847.00 C1111.55 837.88 1126.17 825.13 1135.90 814.20 C1145.63 803.27 1151.72 792.35 1157.80 781.40 C1163.88 770.45 1167.53 763.70 1172.40 748.50 C1177.27 733.30 1182.13 709.65 1187.00 690.20 C1191.87 670.75 1196.73 650.05 1201.60 631.80 C1206.47 613.55 1211.95 592.85 1216.20 580.70 C1220.45 568.55 1223.47 563.75 1227.10 558.90 C1230.73 554.05 1234.35 551.60 1238.00 551.60 C1241.65 551.60 1244.73 552.83 1249.00 558.90 C1253.27 564.97 1258.13 574.02 1263.60 588.00 C1269.07 601.98 1275.73 623.33 1281.80 642.80 C1287.87 662.27 1293.92 685.35 1300.00 704.80 C1306.08 724.25 1312.22 743.08 1318.30 759.50 C1324.38 775.92 1330.42 791.15 1336.50 803.30 C1342.58 815.45 1345.68 822.68 1354.80 832.40 C1363.92 842.12 1379.05 854.60 1391.20 861.60 C1403.35 868.60 1415.53 871.67 1427.70 874.40 C1439.87 877.13 1451.32 877.40 1464.20 878.00 C1477.08 878.60 1498.20 878.00 1505.00 878.00" fill="none" stroke="#00c000" stroke-width="9"/>
<text transform="translate(1067.37 392.20) scale(0.9661 1)" font-size="84.50" font-weight="normal" fill="#00c000">T1</text>
<text transform="translate(1071.98 596.00) scale(0.9597 1)" font-size="84.50" font-weight="normal" fill="#00c000">T2</text>
<text transform="translate(1408.66 503.30) scale(1.0027 1)" font-size="87.80" font-weight="normal" fill="#000"><tspan stroke="#fff" stroke-width="1.4">Δ</tspan></text>
<text transform="translate(1465.00 503.30) scale(1.1390 1)" font-size="87.80" font-weight="normal" fill="#000">I</text>
<text transform="translate(969.50 805.75) rotate(-90) scale(1.0649 1)" font-size="84.00" font-weight="normal" fill="#000">Intensity</text>
<text transform="translate(1155.98 991.60) scale(0.9625 1)" font-size="87.00" font-weight="normal" fill="#000">(x,y)</text>
<text transform="translate(995.04 1101.80) scale(1.0600 1)" font-size="83.00" font-weight="normal" fill="#000">pixel position</text>
<polygon points="1367.4,395 1378,395 1375.6,545 1365,545" fill="#000"/>
<polygon points="1353,539.6 1386.3,539.6 1370,573.5" fill="#000"/>
<path d="M389.3 1204.8 L389.3 2491.8 M375.0 1207.0 L1489.8 1207.0 M1487.5 1207.0 L1487.5 2489.5 M389.3 2489.5 L1489.8 2489.5 M363.5 1390.5 L389.3 1390.5 M363.5 1756.9 L389.3 1756.9 M363.5 2123.2 L389.3 2123.2 M363.5 2489.6 L389.3 2489.6 M374.5 1573.7 L389.3 1573.7 M374.5 1940.0 L389.3 1940.0 M374.5 2306.4 L389.3 2306.4 M389.3 2489.5 L389.3 2515.0 M589.2 2489.5 L589.2 2515.0 M789.1 2489.5 L789.1 2515.0 M989.0 2489.5 L989.0 2515.0 M1188.9 2489.5 L1188.9 2515.0 M1388.8 2489.5 L1388.8 2515.0 M489.2 2489.5 L489.2 2502.5 M689.1 2489.5 L689.1 2502.5 M889.0 2489.5 L889.0 2502.5 M1089.0 2489.5 L1089.0 2502.5 M1288.8 2489.5 L1288.8 2502.5 M1487.5 2489.5 L1487.5 2502.5" stroke="#000" stroke-width="4.5" fill="none"/>
<text transform="translate(219.00 1407.92) scale(0.6497 0.6761)" font-size="100" font-weight="normal" fill="#000">1.00</text>
<text transform="translate(217.03 1774.33) scale(0.6677 0.6704)" font-size="100" font-weight="normal" fill="#000">0.95</text>
<text transform="translate(216.83 2141.13) scale(0.6668 0.6704)" font-size="100" font-weight="normal" fill="#000">0.90</text>
<text transform="translate(216.20 2507.34) scale(0.6753 0.6648)" font-size="100" font-weight="normal" fill="#000">0.85</text>
<text transform="translate(350.98 2583.33) scale(0.6700 0.6676)" font-size="100" font-weight="normal" fill="#000">20</text>
<text transform="translate(550.88 2583.33) scale(0.6700 0.6676)" font-size="100" font-weight="normal" fill="#000">25</text>
<text transform="translate(751.12 2583.33) scale(0.6700 0.6676)" font-size="100" font-weight="normal" fill="#000">30</text>
<text transform="translate(951.02 2583.33) scale(0.6700 0.6676)" font-size="100" font-weight="normal" fill="#000">35</text>
<text transform="translate(1151.59 2583.33) scale(0.6700 0.6676)" font-size="100" font-weight="normal" fill="#000">40</text>
<text transform="translate(1351.49 2583.32) scale(0.6700 0.6771)" font-size="100" font-weight="normal" fill="#000">45</text>
<text transform="translate(659.14 2699.30) scale(0.9997 1)" font-size="73.10" font-weight="normal" fill="#000">Temperature (°C)</text>
<text transform="translate(126.50 2277.75) rotate(-90) scale(0.9844 1)" font-size="73.00" font-weight="normal" fill="#000">Fluorescent Intensity (F/F</text>
<text transform="translate(153.80 1461.96) rotate(-90) scale(0.9276 1)" font-size="42.00" font-weight="normal" fill="#000">0</text>
<text transform="translate(126.50 1440.37) rotate(-90) scale(1.1855 1)" font-size="73.00" font-weight="normal" fill="#000">)</text>
<text transform="translate(1082.63 2362.10) scale(0.9375 1)" font-size="63.00" font-weight="normal" fill="#ff0000"><tspan stroke="#fff" stroke-width="1.6">Δ</tspan>I/<tspan stroke="#fff" stroke-width="1.6">Δ</tspan>T=-0.005</text>
<rect x="451.2" y="1474.3" width="36.0" height="36.0" fill="#ff0000"/>
<rect x="490.7" y="1370.7" width="36.0" height="36.0" fill="#ff0000"/>
<rect x="570.9" y="1445.0" width="36.0" height="36.0" fill="#ff0000"/>
<rect x="770.2" y="1662.2" width="36.0" height="36.0" fill="#ff0000"/>
<rect x="970.2" y="1914.7" width="36.0" height="36.0" fill="#ff0000"/>
<rect x="1369.0" y="2232.8" width="36.0" height="36.0" fill="#ff0000"/>
<path d="M588.90 1486.00 C591.75 1483.47 599.45 1477.67 606.00 1470.80 C612.55 1463.93 619.68 1453.63 628.20 1444.80 C636.72 1435.97 649.07 1424.87 657.10 1417.80 C665.13 1410.73 670.78 1406.25 676.40 1402.40 C682.02 1398.55 685.48 1396.88 690.80 1394.70 C696.12 1392.52 702.35 1390.10 708.30 1389.30 C714.25 1388.50 720.58 1389.48 726.50 1389.90 C732.42 1390.32 737.70 1390.37 743.80 1391.80 C749.90 1393.23 755.07 1394.97 763.10 1398.50 C771.13 1402.03 784.30 1409.30 792.00 1413.00 C799.70 1416.70 803.25 1418.38 809.30 1420.70 C815.35 1423.02 821.55 1424.65 828.30 1426.90 C835.05 1429.15 841.88 1431.52 849.80 1434.20 C857.72 1436.88 865.50 1439.90 875.80 1443.00 C886.10 1446.10 902.65 1450.42 911.60 1452.80 C920.55 1455.18 923.52 1455.63 929.50 1457.30 C935.48 1458.97 940.95 1460.42 947.50 1462.80 C954.05 1465.18 962.85 1468.35 968.80 1471.60 C974.75 1474.85 977.83 1477.53 983.20 1482.30 C988.57 1487.07 995.03 1493.33 1001.00 1500.20 C1006.97 1507.07 1013.03 1514.85 1019.00 1523.50 C1024.97 1532.15 1031.73 1542.85 1036.80 1552.10 C1041.87 1561.35 1045.37 1571.35 1049.40 1579.00 C1053.43 1586.65 1057.68 1591.30 1061.00 1598.00 C1064.32 1604.70 1066.33 1611.98 1069.30 1619.20 C1072.27 1626.42 1074.50 1629.47 1078.80 1641.30 C1083.10 1653.13 1090.12 1673.90 1095.10 1690.20 C1100.08 1706.50 1104.17 1721.88 1108.70 1739.10 C1113.23 1756.32 1117.77 1775.83 1122.30 1793.50 C1126.83 1811.17 1132.28 1831.97 1135.90 1845.10 C1139.52 1858.23 1141.95 1865.12 1144.00 1872.30 C1146.05 1879.48 1147.50 1885.55 1148.20 1888.20" fill="none" stroke="#00ff00" stroke-width="6" stroke-linejoin="round"/>
<rect x="570.9" y="1468.0" width="36.0" height="36.0" fill="#00ff00"/>
<rect x="690.3" y="1370.7" width="36.0" height="36.0" fill="#00ff00"/>
<rect x="810.3" y="1408.9" width="36.0" height="36.0" fill="#00ff00"/>
<rect x="929.5" y="1444.8" width="36.0" height="36.0" fill="#00ff00"/>
<rect x="1050.0" y="1601.2" width="36.0" height="36.0" fill="#00ff00"/>
<rect x="1130.2" y="1870.2" width="36.0" height="36.0" fill="#00ff00"/>
<path d="M588.90 1526.50 C591.58 1523.80 600.07 1515.57 605.00 1510.30 C609.93 1505.03 613.03 1500.68 618.50 1494.90 C623.97 1489.12 631.37 1481.70 637.80 1475.60 C644.23 1469.50 650.67 1463.27 657.10 1458.30 C663.53 1453.33 669.02 1448.85 676.40 1445.80 C683.78 1442.75 694.33 1440.65 701.40 1440.00 C708.47 1439.35 713.33 1440.47 718.80 1441.90 C724.27 1443.33 728.43 1445.23 734.20 1448.60 C739.97 1451.97 746.98 1457.27 753.40 1462.10 C759.82 1466.93 766.27 1472.13 772.70 1477.60 C779.13 1483.07 785.57 1489.13 792.00 1494.90 C798.43 1500.67 804.88 1507.07 811.30 1512.20 C817.72 1517.33 824.08 1522.17 830.50 1525.70 C836.92 1529.23 840.77 1531.08 849.80 1533.40 C858.83 1535.72 874.40 1538.40 884.70 1539.60 C895.00 1540.80 904.13 1540.43 911.60 1540.60 C919.07 1540.77 919.97 1540.32 929.50 1540.60 C939.03 1540.88 959.85 1541.28 968.80 1542.30 C977.75 1543.32 977.83 1544.42 983.20 1546.70 C988.57 1548.98 995.03 1551.78 1001.00 1556.00 C1006.97 1560.22 1013.03 1565.20 1019.00 1572.00 C1024.97 1578.80 1031.73 1588.18 1036.80 1596.80 C1041.87 1605.42 1045.12 1612.67 1049.40 1623.70 C1053.68 1634.73 1058.05 1647.38 1062.50 1663.00 C1066.95 1678.62 1071.57 1697.02 1076.10 1717.40 C1080.63 1737.78 1085.17 1760.40 1089.70 1785.30 C1094.23 1810.20 1098.78 1837.35 1103.30 1866.80 C1107.82 1896.25 1112.73 1934.82 1116.80 1962.00 C1120.87 1989.18 1124.52 2007.27 1127.70 2029.90 C1130.88 2052.53 1132.95 2077.87 1135.90 2097.80 C1138.85 2117.73 1143.30 2137.83 1145.40 2149.50 C1147.50 2161.17 1147.98 2164.75 1148.50 2167.80" fill="none" stroke="#0000ff" stroke-width="5" stroke-linejoin="round"/>
<rect x="570.9" y="1508.5" width="36.0" height="36.0" fill="#0000ff"/>
<rect x="690.3" y="1370.7" width="36.0" height="36.0" fill="#0000ff"/>
<rect x="810.0" y="1536.9" width="36.0" height="36.0" fill="#0000ff"/>
<rect x="929.9" y="1508.3" width="36.0" height="36.0" fill="#0000ff"/>
<rect x="1049.6" y="1556.0" width="36.0" height="36.0" fill="#0000ff"/>
<rect x="1130.5" y="2149.8" width="36.0" height="36.0" fill="#0000ff"/>
<path d="M468 1403.3 L1388 2262.6" stroke="#ff0000" stroke-width="5" fill="none"/>
</svg></body></html>
